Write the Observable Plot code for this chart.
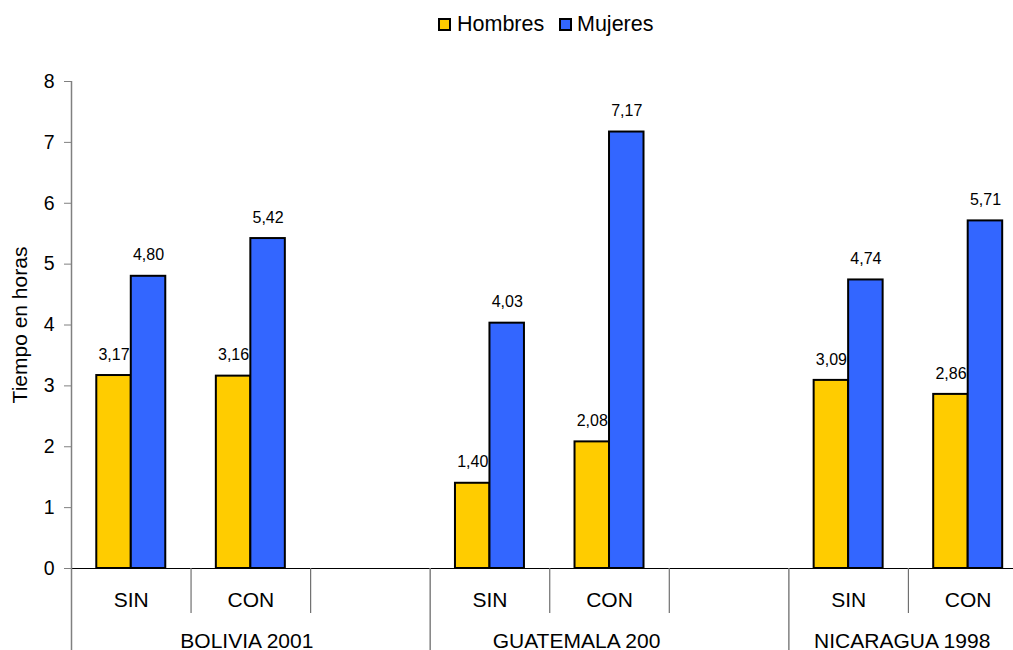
<!DOCTYPE html>
<html>
<head>
<meta charset="utf-8">
<script src="https://cdn.jsdelivr.net/npm/d3@7"></script>
<script src="https://cdn.jsdelivr.net/npm/@observablehq/plot@0.6"></script>
<style>
  html, body { margin: 0; padding: 0; background: #fff; overflow: hidden; }
  body { font-family: "Liberation Sans", Arial, sans-serif; width: 1013px; height: 650px; }
  #legend { position: relative; height: 50px; font-size: 21.5px; color: #000; }
  #legend .sw { position: absolute; top: 18px; width: 13px; height: 13px; box-sizing: border-box; border: 2px solid #000; }
  #legend .lb { position: absolute; top: 12px; line-height: 24px; white-space: nowrap; }
  #chart svg { display: block; overflow: visible; }
</style>
</head>
<body>
<div id="legend"></div>
<div id="chart"></div>
<script>
// ---- data ----
const countries = ["BOLIVIA 2001", "GUATEMALA 200", "NICARAGUA 1998"];
const conditions = ["SIN", "CON", ""];          // third slot of each group is empty
const series = ["Hombres", "Mujeres"];
const seriesColors = ["#FFCC00", "#3366FF"];
const hombres = [3.17, 3.16, 1.40, 2.08, 3.09, 2.86];   // SIN, CON per country
const mujeres = [4.80, 5.42, 4.03, 7.17, 4.74, 5.71];
const yTicks = [0, 1, 2, 3, 4, 5, 6, 7, 8];
const yDomain = [0, 8];

// ---- derived tables ----
const slots = [];
countries.forEach((c, ci) => conditions.forEach((cond, k) =>
  slots.push({key: c + "|" + k, country: c, cond, first: k === 0, axis: ci === 0 && k === 0})));
const slotKeys = slots.map(s => s.key);
const bars = [];
countries.forEach((c, ci) => [0, 1].forEach(k => {
  bars.push({slot: c + "|" + k, sex: series[0], value: hombres[ci * 2 + k]});
  bars.push({slot: c + "|" + k, sex: series[1], value: mujeres[ci * 2 + k]});
}));
const fmt = v => v.toFixed(2).replace(".", ",");

// ---- layout ----
const left = 71, slotW = 119.56;
const font = '"Liberation Sans", Arial, sans-serif';

// legend (HTML above the SVG)
const legend = document.getElementById("legend");
const legendX = [[438, 457], [559, 577]];
series.forEach((s, i) => {
  const sw = document.createElement("span");
  sw.className = "sw"; sw.style.left = legendX[i][0] + "px"; sw.style.background = seriesColors[i];
  const lb = document.createElement("span");
  lb.className = "lb"; lb.style.left = legendX[i][1] + "px"; lb.textContent = s;
  legend.append(sw, lb);
});

const countryDx = [-4, -33, -66];

const plot = Plot.plot({
  width: 1013,
  height: 600,
  marginTop: 31,
  marginBottom: 82,
  marginLeft: left,
  marginRight: 0,
  style: {fontFamily: font, fontSize: "18px", color: "#000", background: "transparent", overflow: "visible"},
  fx: {domain: slotKeys, range: [left, left + slotKeys.length * slotW], padding: 0, round: false, axis: null},
  x: {domain: series, paddingInner: 0, paddingOuter: 0.733, round: false, axis: null},
  y: {domain: yDomain, axis: null},
  color: {domain: series, range: seriesColors},
  marks: [
    Plot.axisY({ticks: yTicks, tickSize: 7, tickPadding: 10, stroke: "#808080", fill: "#000",
                label: null, fontSize: 19.5, tickFormat: d => String(d)}),
    Plot.text(["Tiempo en horas"], {fx: () => slotKeys[0], frameAnchor: "left", textAnchor: "middle",
                lineAnchor: "middle", rotate: -90, dx: -51.5, text: d => d, fontSize: 21}),
    Plot.barY(bars, {fx: "slot", x: "sex", y: "value", fill: "sex", stroke: "#000", strokeWidth: 2}),
    Plot.ruleY([0], {stroke: "#000", strokeWidth: 1.2}),
    Plot.text(bars, {fx: "slot", x: "sex", y: "value", text: d => fmt(d.value), dy: -21, fontSize: 16}),
    // vertical axis line, continuing below the baseline
    Plot.ruleX(slots.filter(s => s.axis), {fx: "key", x: null, y1: () => yDomain[1], y2: () => yDomain[0],
                dx: -slotW / 2, insetBottom: -90, stroke: "#808080", strokeWidth: 1.5}),
    // separators below the axis
    Plot.ruleX(slots.filter(s => !s.first), {fx: "key", x: null, y1: 0, y2: 0, dx: -slotW / 2,
                insetBottom: -45, stroke: "#707070", strokeWidth: 1.2}),
    Plot.ruleX(slots.filter(s => s.first && !s.axis), {fx: "key", x: null, y1: 0, y2: 0, dx: -slotW / 2,
                insetBottom: -90, stroke: "#808080", strokeWidth: 1.5}),
    // category labels
    Plot.text(slots, {fx: "key", text: "cond", frameAnchor: "bottom", lineAnchor: "middle", dy: 31.5, fontSize: 21}),
    // country labels (one mark per group, placed under its middle slot)
    ...countries.map((c, ci) => Plot.text([c], {fx: () => c + "|1", text: d => d, frameAnchor: "bottom",
                lineAnchor: "middle", dy: 72.5, dx: countryDx[ci], fontSize: 21}))
  ]
});
document.getElementById("chart").append(plot);
</script>
</body>
</html>
